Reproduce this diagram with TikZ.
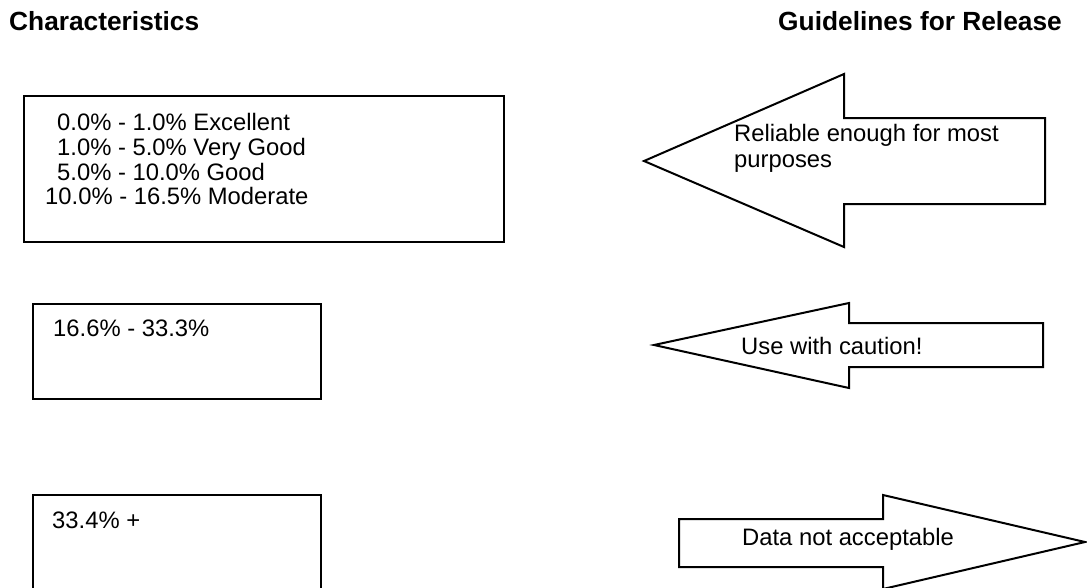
\documentclass[tikz,border=0pt]{standalone}
\usepackage{fontspec}
\setmainfont{Liberation Sans}
\begin{document}
\begin{tikzpicture}[x=1pt,y=-1pt,
  outline/.style={draw=black,line width=2pt,line join=miter},
  rangebox/.style={outline,anchor=north west,inner sep=0pt},
  body/.style={anchor=base west,inner sep=0pt,font=\fontsize{23.8}{28}\selectfont},
  header/.style={anchor=base west,inner sep=0pt,font=\fontsize{26.3}{30}\selectfont\bfseries}]
\useasboundingbox (0,0) rectangle (1087,587);
\clip (0,0) rectangle (1087,587);

% column headings
\node[header] (hchar) at (9,30.5) {Characteristics};
\node[header,anchor=base east] (hguide) at (1062,30.5) {Guidelines for Release};

% range boxes
\node[rangebox,minimum width=480.3pt,minimum height=145.7pt] (box1) at (22.7,95) {};
\node[rangebox,minimum width=288pt,minimum height=95pt] (box2) at (32,303) {};
\node[rangebox,minimum width=288pt,minimum height=110pt] (box3) at (32,494) {};

\node[body] (r1) at (57,130) {0.0\% - 1.0\% Excellent};
\node[body] (r2) at (57,155) {1.0\% - 5.0\% Very Good};
\node[body] (r3) at (57,180) {5.0\% - 10.0\% Good};
\node[body] (r4) at (45,204.5) {10.0\% - 16.5\% Moderate};
\node[body] (r5) at (53,336.5) {16.6\% - 33.3\%};
\node[body] (r6) at (52,528) {33.4\% +};

% guideline block arrows
\draw[outline] (644,161) -- (844,74) -- (844,118) -- (1045,118) -- (1045,204)
  -- (844,204) -- (844,247) -- cycle;
\draw[outline] (654,345) -- (849,303) -- (849,323) -- (1043,323) -- (1043,367)
  -- (849,367) -- (849,388) -- cycle;
\draw[outline] (1085,542) -- (883,495) -- (883,519) -- (679,519) -- (679,567)
  -- (883,567) -- (883,589) -- cycle;

\node[body] (g1a) at (734,141) {Reliable enough for most};
\node[body] (g1b) at (734,167) {purposes};
\node[body] (g2) at (741,354) {Use with caution!};
\node[body] (g3) at (742,545.5) {Data not acceptable};
\end{tikzpicture}
\end{document}
